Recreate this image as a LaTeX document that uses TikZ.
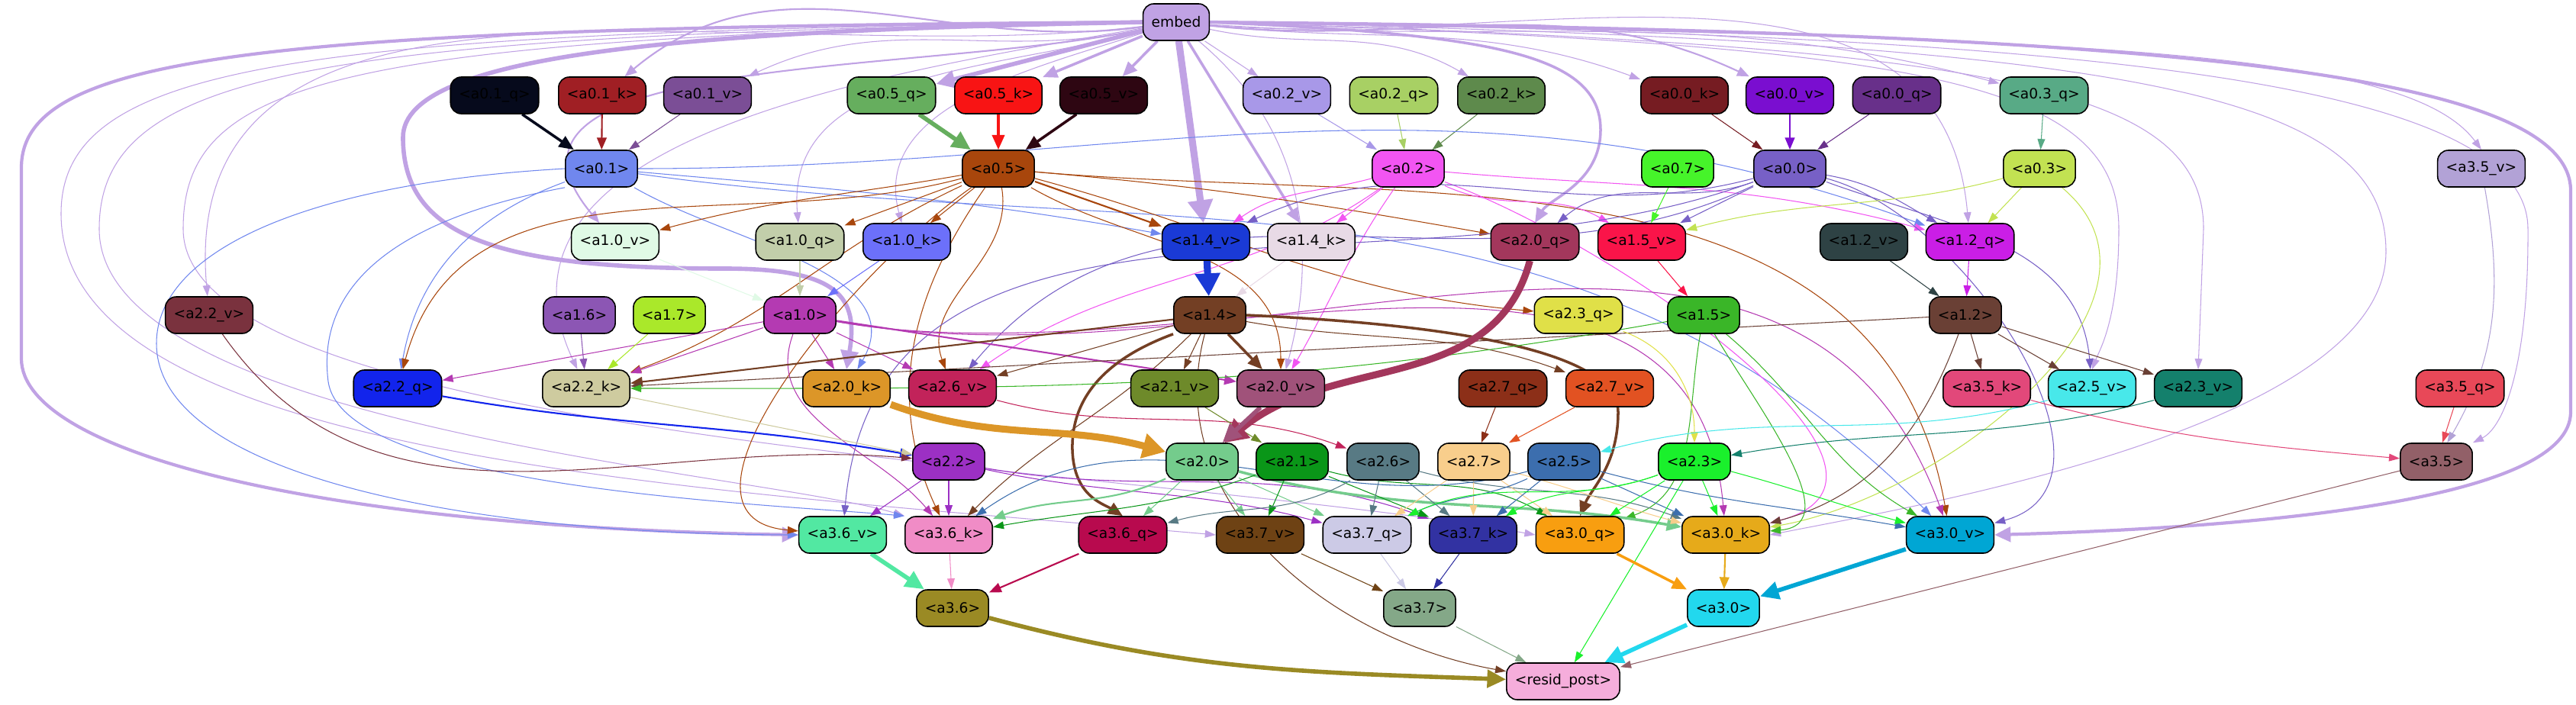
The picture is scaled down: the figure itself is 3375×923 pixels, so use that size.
\documentclass[tikz,border=0pt]{standalone}
\usepackage{fontspec}
\setmainfont{DejaVu Sans}
\usetikzlibrary{arrows.meta}
\pgfdeclarelayer{edges}
\pgfsetlayers{edges,main}
\definecolor{cemb}{HTML}{C0A2E4}
\definecolor{ca01q}{HTML}{060A1C}
\definecolor{ca01k}{HTML}{A01F24}
\definecolor{ca01v}{HTML}{7B4E96}
\definecolor{ca05q}{HTML}{66AE5E}
\definecolor{ca05k}{HTML}{F81414}
\definecolor{ca05v}{HTML}{2E0612}
\definecolor{ca02v}{HTML}{A898E8}
\definecolor{ca02q}{HTML}{A8D064}
\definecolor{ca02k}{HTML}{5E8A4C}
\definecolor{ca00k}{HTML}{761C22}
\definecolor{ca00v}{HTML}{7A0ED0}
\definecolor{ca00q}{HTML}{68308A}
\definecolor{ca03q}{HTML}{58AA86}
\definecolor{ca01}{HTML}{7087EE}
\definecolor{ca05}{HTML}{A8460C}
\definecolor{ca02}{HTML}{F255F2}
\definecolor{ca07}{HTML}{46F42A}
\definecolor{ca00}{HTML}{7760C6}
\definecolor{ca03}{HTML}{C2E252}
\definecolor{ca35v}{HTML}{B2A2D6}
\definecolor{ca10v}{HTML}{E0FAE6}
\definecolor{ca10q}{HTML}{C2CEAA}
\definecolor{ca10k}{HTML}{6C70FA}
\definecolor{ca14v}{HTML}{1A3AD6}
\definecolor{ca14k}{HTML}{E8DAE6}
\definecolor{ca20q}{HTML}{A3375C}
\definecolor{ca15v}{HTML}{FA1449}
\definecolor{ca12v}{HTML}{2E4244}
\definecolor{ca12q}{HTML}{CA1EE6}
\definecolor{ca22v}{HTML}{7A323E}
\definecolor{ca16}{HTML}{8C56B4}
\definecolor{ca17}{HTML}{AAE82A}
\definecolor{ca10}{HTML}{B43AB2}
\definecolor{ca14}{HTML}{733F24}
\definecolor{ca23q}{HTML}{E0E048}
\definecolor{ca15}{HTML}{3AB628}
\definecolor{ca12}{HTML}{6A4035}
\definecolor{ca22q}{HTML}{1224EC}
\definecolor{ca22k}{HTML}{CECB9F}
\definecolor{ca20k}{HTML}{DC9628}
\definecolor{ca26v}{HTML}{C2235A}
\definecolor{ca21v}{HTML}{6E8A2A}
\definecolor{ca20v}{HTML}{A0527A}
\definecolor{ca27q}{HTML}{8C2F18}
\definecolor{ca27v}{HTML}{E25222}
\definecolor{ca35k}{HTML}{E2487A}
\definecolor{ca25v}{HTML}{48E8EA}
\definecolor{ca23v}{HTML}{14806C}
\definecolor{ca35q}{HTML}{E84858}
\definecolor{ca22}{HTML}{9C30C4}
\definecolor{ca20}{HTML}{74CC8C}
\definecolor{ca21}{HTML}{0A9618}
\definecolor{ca26}{HTML}{587A84}
\definecolor{ca27}{HTML}{F8CE8C}
\definecolor{ca25}{HTML}{3C6EAE}
\definecolor{ca23}{HTML}{1AF02C}
\definecolor{ca35}{HTML}{926068}
\definecolor{ca36v}{HTML}{52E8A2}
\definecolor{ca36k}{HTML}{F08CC6}
\definecolor{ca36q}{HTML}{B80A4E}
\definecolor{ca37v}{HTML}{6E4214}
\definecolor{ca37q}{HTML}{CCCAE6}
\definecolor{ca37k}{HTML}{3232A2}
\definecolor{ca30q}{HTML}{F89E10}
\definecolor{ca30k}{HTML}{E6AA1A}
\definecolor{ca30v}{HTML}{00A6D4}
\definecolor{ca36}{HTML}{9A8A24}
\definecolor{ca37}{HTML}{84A888}
\definecolor{ca30}{HTML}{22D8EE}
\definecolor{cresid}{HTML}{F5ADDB}
\begin{document}
\begin{tikzpicture}[x=0.01cm, y=-0.01cm,
    box/.style={draw=black, line width=0.45pt, rounded corners=0.14cm, minimum height=0.48cm, inner xsep=0.11cm, inner ysep=0pt, font=\fontsize{5.3}{6}\selectfont},
    wire/.style={line width=0.3pt, -{Triangle[length=4pt, width=2.8pt]}},
    wirea/.style={line width=0.6pt, -{Triangle[length=4.5pt, width=3.6pt]}},
    wireb/.style={line width=1pt, -{Triangle[length=5.5pt, width=4.6pt]}},
    wirec/.style={line width=1.6pt, -{Triangle[length=7pt, width=6.5pt]}},
    wired/.style={line width=2.6pt, -{Triangle[length=8.5pt, width=9pt]}}]
    \useasboundingbox (0,0) rectangle (3375,923);
    \node[box, fill=cemb] (emb) at (1541,29) {embed};
    \node[box, fill=ca01q] (a01q) at (648,125) {<a0.1\_q>};
    \node[box, fill=ca01k] (a01k) at (789,125) {<a0.1\_k>};
    \node[box, fill=ca01v] (a01v) at (927,125) {<a0.1\_v>};
    \node[box, fill=ca05q] (a05q) at (1168,125) {<a0.5\_q>};
    \node[box, fill=ca05k] (a05k) at (1308,125) {<a0.5\_k>};
    \node[box, fill=ca05v] (a05v) at (1446,125) {<a0.5\_v>};
    \node[box, fill=ca02v] (a02v) at (1686,125) {<a0.2\_v>};
    \node[box, fill=ca02q] (a02q) at (1826,125) {<a0.2\_q>};
    \node[box, fill=ca02k] (a02k) at (1967,125) {<a0.2\_k>};
    \node[box, fill=ca00k] (a00k) at (2207,125) {<a0.0\_k>};
    \node[box, fill=ca00v] (a00v) at (2345,125) {<a0.0\_v>};
    \node[box, fill=ca00q] (a00q) at (2485,125) {<a0.0\_q>};
    \node[box, fill=ca03q] (a03q) at (2678,125) {<a0.3\_q>};
    \node[box, fill=ca01] (a01) at (788,221) {<a0.1>};
    \node[box, fill=ca05] (a05) at (1308,221) {<a0.5>};
    \node[box, fill=ca02] (a02) at (1845,221) {<a0.2>};
    \node[box, fill=ca07] (a07) at (2198,221) {<a0.7>};
    \node[box, fill=ca00] (a00) at (2345,221) {<a0.0>};
    \node[box, fill=ca03] (a03) at (2672,221) {<a0.3>};
    \node[box, fill=ca35v] (a35v) at (3251,221) {<a3.5\_v>};
    \node[box, fill=ca10v] (a10v) at (806,317) {<a1.0\_v>};
    \node[box, fill=ca10q] (a10q) at (1048,317) {<a1.0\_q>};
    \node[box, fill=ca10k] (a10k) at (1188,317) {<a1.0\_k>};
    \node[box, fill=ca14v] (a14v) at (1580,317) {<a1.4\_v>};
    \node[box, fill=ca14k] (a14k) at (1718,317) {<a1.4\_k>};
    \node[box, fill=ca20q] (a20q) at (2011,317) {<a2.0\_q>};
    \node[box, fill=ca15v] (a15v) at (2151,317) {<a1.5\_v>};
    \node[box, fill=ca12v] (a12v) at (2442,317) {<a1.2\_v>};
    \node[box, fill=ca12q] (a12q) at (2581,317) {<a1.2\_q>};
    \node[box, fill=ca22v] (a22v) at (274,413) {<a2.2\_v>};
    \node[box, fill=ca16] (a16) at (759,413) {<a1.6>};
    \node[box, fill=ca17] (a17) at (877,413) {<a1.7>};
    \node[box, fill=ca10] (a10) at (1048,413) {<a1.0>};
    \node[box, fill=ca14] (a14) at (1585,413) {<a1.4>};
    \node[box, fill=ca23q] (a23q) at (2068,413) {<a2.3\_q>};
    \node[box, fill=ca15] (a15) at (2232,413) {<a1.5>};
    \node[box, fill=ca12] (a12) at (2575,413) {<a1.2>};
    \node[box, fill=ca22q] (a22q) at (521,509) {<a2.2\_q>};
    \node[box, fill=ca22k] (a22k) at (768,509) {<a2.2\_k>};
    \node[box, fill=ca20k] (a20k) at (1109,509) {<a2.0\_k>};
    \node[box, fill=ca26v] (a26v) at (1248,509) {<a2.6\_v>};
    \node[box, fill=ca21v] (a21v) at (1539,509) {<a2.1\_v>};
    \node[box, fill=ca20v] (a20v) at (1678,509) {<a2.0\_v>};
    \node[box, fill=ca27q] (a27q) at (1969,509) {<a2.7\_q>};
    \node[box, fill=ca27v] (a27v) at (2109,509) {<a2.7\_v>};
    \node[box, fill=ca35k] (a35k) at (2603,509) {<a3.5\_k>};
    \node[box, fill=ca25v] (a25v) at (2741,509) {<a2.5\_v>};
    \node[box, fill=ca23v] (a23v) at (2880,509) {<a2.3\_v>};
    \node[box, fill=ca35q] (a35q) at (3223,509) {<a3.5\_q>};
    \node[box, fill=ca22] (a22) at (1243,605) {<a2.2>};
    \node[box, fill=ca20] (a20) at (1575,605) {<a2.0>};
    \node[box, fill=ca21] (a21) at (1693,605) {<a2.1>};
    \node[box, fill=ca26] (a26) at (1812,605) {<a2.6>};
    \node[box, fill=ca27] (a27) at (1931,605) {<a2.7>};
    \node[box, fill=ca25] (a25) at (2049,605) {<a2.5>};
    \node[box, fill=ca23] (a23) at (2220,605) {<a2.3>};
    \node[box, fill=ca35] (a35) at (3192,605) {<a3.5>};
    \node[box, fill=ca36v] (a36v) at (1104,701) {<a3.6\_v>};
    \node[box, fill=ca36k] (a36k) at (1243,701) {<a3.6\_k>};
    \node[box, fill=ca36q] (a36q) at (1471,701) {<a3.6\_q>};
    \node[box, fill=ca37v] (a37v) at (1651,701) {<a3.7\_v>};
    \node[box, fill=ca37q] (a37q) at (1791,701) {<a3.7\_q>};
    \node[box, fill=ca37k] (a37k) at (1930,701) {<a3.7\_k>};
    \node[box, fill=ca30q] (a30q) at (2070,701) {<a3.0\_q>};
    \node[box, fill=ca30k] (a30k) at (2261,701) {<a3.0\_k>};
    \node[box, fill=ca30v] (a30v) at (2555,701) {<a3.0\_v>};
    \node[box, fill=ca36] (a36) at (1248,797) {<a3.6>};
    \node[box, fill=ca37] (a37) at (1860,797) {<a3.7>};
    \node[box, fill=ca30] (a30) at (2258,797) {<a3.0>};
    \node[box, fill=cresid] (resid) at (2048,893) {<resid\_post>};
    \begin{pgfonlayer}{edges}
    \path[cemb] (emb) edge[wirea, out=188, in=40] (a01k) edge[wire, out=192, in=25] (a01v)
        edge[wirec] (a05q) edge[wireb] (a05k) edge[wireb] (a05v) edge[wire] (a02v)
        edge[wire, out=-12, in=150] (a02k) edge[wire, out=-6, in=160] (a00k)
        edge[wirea, out=-6, in=155] (a00v) edge[wire, out=-4, in=165] (a03q)
        edge[wired] (a14v) edge[wireb] (a14k)
        edge[wire, out=195, in=95] (a10q) edge[wire, out=198, in=105] (a10k)
        edge[wirea, out=192, in=130] (a10v) edge[wire, out=-5, in=95] (a12q)
        edge[wire, out=187, in=95] (a22v)
        edge[wire, out=190, in=115] (a22k) edge[wire, out=-40, in=75] (a20v);
    \draw[cemb, wire] (emb.east) .. controls (2700,50) and (3150,60) .. (a35v.north);
    \draw[cemb, wire] (emb.east) .. controls (2700,45) and (3312,100) .. (3312,300) .. controls (3313,480) and (3280,560) .. (a35.north east);
    \draw[cemb, wire] (emb.east) .. controls (2500,60) and (2776,100) .. (2776,300) .. controls (2776,420) and (2750,460) .. (a25v.north);
    \draw[cemb, wire] (emb.east) .. controls (2600,60) and (2887,110) .. (2887,300) -- (a23v.north);
    \draw[cemb, wire] (emb.east) .. controls (2800,55) and (3126,120) .. (3126,330) .. controls (3126,560) and (2500,665) .. (a30k.east);
    \draw[cemb, line width=1.2pt, -{Triangle[length=6pt, width=5.5pt]}] (emb.west) .. controls (350,36) and (28,70) .. (28,220) -- (28,470) .. controls (28,590) and (400,690) .. (a36v.west);
    \draw[cemb, line width=1.2pt, -{Triangle[length=6pt, width=5.5pt]}] (emb.east) .. controls (2800,40) and (3368,90) .. (3368,250) -- (3368,540) .. controls (3368,650) and (3000,690) .. (a30v.east);
    \draw[cemb, wirec] (emb.west) .. controls (900,40) and (528,70) .. (528,180) .. controls (528,310) and (650,352) .. (950,352) .. controls (1100,352) and (1125,390) .. (a20k.north);
    \draw[cemb, wireb] (emb.east) .. controls (1950,45) and (2097,70) .. (2097,170) .. controls (2097,240) and (2030,260) .. (a20q.north);
    \draw[cemb, wire] (emb.west) .. controls (400,42) and (80,80) .. (80,280) .. controls (80,600) and (900,640) .. (a37v.west);
    \draw[cemb, wire] (emb.west) .. controls (420,46) and (130,90) .. (130,300) .. controls (130,560) and (1000,620) .. (a36k.north west);
    \draw[cemb, wire] (emb.west) .. controls (450,50) and (240,100) .. (240,300) .. controls (240,580) and (1500,610) .. (a30q.west);
    \path[ca01q] (a01q) edge[wireb] (a01);
    \path[ca01k] (a01k) edge[wirea] (a01);
    \path[ca01v] (a01v) edge[wire] (a01);
    \path[ca05q] (a05q) edge[wirec] (a05);
    \path[ca05k] (a05k) edge[wireb] (a05);
    \path[ca05v] (a05v) edge[wireb] (a05);
    \path[ca02v] (a02v) edge[wire] (a02);
    \path[ca02q] (a02q) edge[wire] (a02);
    \path[ca02k] (a02k) edge[wire] (a02);
    \path[ca00k] (a00k) edge[wire] (a00);
    \path[ca00v] (a00v) edge[wirea] (a00);
    \path[ca00q] (a00q) edge[wire] (a00);
    \path[ca03q] (a03q) edge[wire] (a03);
    \path[ca35v] (a35v) edge[wire, out=-80, in=60] (a35);
    \path[ca01] (a01) edge[wire, out=-5, in=170] (a14v) edge[wire, out=0, in=160] (a12q)
        edge[wire, out=-30, in=60] (a20k) edge[wire, out=200, in=80] (a22q)
        edge[wire, out=-8, in=135] (a30v);
    \draw[ca01, wire] (a01.west) .. controls (400,240) and (205,330) .. (205,450) .. controls (205,620) and (600,700) .. (a36v.west);
    \draw[ca01, wire] (a01.south west) .. controls (450,300) and (420,420) .. (430,500) .. controls (450,640) and (1000,660) .. (a36k.north west);
    \path[ca05] (a05) edge[wire, out=190, in=15] (a10v) edge[wire] (a10q) edge[wire] (a10k)
        edge[wirea] (a14v) edge[wire, out=-5, in=170] (a20q) edge[wire, out=-15, in=175] (a23q)
        edge[wire, out=195, in=75] (a22q) edge[wire, out=205, in=20] (a22k)
        edge[wire, out=-80, in=110] (a26v) edge[wire, out=-30, in=90] (a20v)
        edge[wire, out=215, in=175] (a36v) edge[wire, out=235, in=115] (a36k)
        edge[wire, out=-5, in=100] (a30v);
    \path[ca02] (a02) edge[wire] (a14k) edge[wire, out=195, in=35] (a14v)
        edge[wire, out=-25, in=150] (a15v) edge[wire, out=-5, in=165] (a12q)
        edge[wire, out=235, in=60] (a20v) edge[wire, out=215, in=35] (a26v)
        edge[wire, out=-20, in=15] (a30k);
    \path[ca00] (a00) edge[wire, out=195, in=25] (a14v) edge[wire, out=200, in=40] (a20q)
        edge[wire] (a15v) edge[wire, out=-10, in=150] (a12q) edge[wire, out=-20, in=95] (a25v)
        edge[wire, out=-15, in=15] (a30v) edge[wire, out=200, in=85] (a36v)
        edge[wire, out=205, in=50] (a26v);
    \path[ca07] (a07) edge[wire] (a15v);
    \path[ca03] (a03) edge[wire, out=195, in=15] (a15v) edge[wire] (a12q)
        edge[wire, out=-40, in=10] (a30k);
    \path[ca10v] (a10v) edge[wire] (a10);
    \path[ca10q] (a10q) edge[wire] (a10);
    \path[ca10k] (a10k) edge[wire] (a10);
    \path[ca14v] (a14v) edge[wired] (a14);
    \path[ca14k] (a14k) edge[wire] (a14);
    \path[ca12v] (a12v) edge[wire] (a12);
    \path[ca12q] (a12q) edge[wire] (a12);
    \path[ca15v] (a15v) edge[wire] (a15);
    \path[ca10] (a10) edge[wire] (a22q) edge[wire] (a22k) edge[wire] (a20k) edge[wire] (a26v)
        edge[wirea] (a20v) edge[wire, out=-110, in=130] (a36k)
        edge[wire, out=-10, in=95] (a30k) edge[wire, out=-10, in=110] (a30v);
    \path[ca16] (a16) edge[wire] (a22k);
    \path[ca17] (a17) edge[wire] (a22k);
    \path[ca14] (a14) edge[wirea] (a22k) edge[wire] (a26v) edge[wire] (a21v) edge[wireb] (a20v)
        edge[wire, out=-10, in=160] (a27v) edge[wire, out=225, in=45] (a36k)
        edge[wire, out=-105, in=170] (resid);
    \draw[ca14, wireb] (a14.south west) .. controls (1450,470) and (1403,520) .. (1405,590) .. controls (1407,650) and (1445,660) .. (a36q.north);
    \draw[ca14, wireb] (a14.east) .. controls (1900,425) and (2120,460) .. (2120,540) .. controls (2120,610) and (2085,640) .. (a30q.north);
    \path[ca12] (a12) edge[wire] (a35k) edge[wire] (a25v) edge[wire] (a23v) edge[wire] (a22k)
        edge[wire, out=-110, in=15] (a30k);
    \path[ca15] (a15) edge[wire, out=190, in=0] (a22k) edge[wire, out=-100, in=20] (a30q)
        edge[wire, out=-60, in=5] (a30k) edge[wire, out=-40, in=150] (a30v);
    \path[ca23q] (a23q) edge[wire, out=-20, in=90] (a23);
    \path[ca23v] (a23v) edge[wire, out=195, in=10] (a23);
    \path[ca25v] (a25v) edge[wire, out=195, in=15] (a25);
    \path[ca27q] (a27q) edge[wire] (a27);
    \path[ca27v] (a27v) edge[wire] (a27);
    \path[ca26v] (a26v) edge[wire, out=-15, in=160] (a26);
    \path[ca21v] (a21v) edge[wire] (a21);
    \path[ca20k] (a20k) edge[wired, out=-20, in=165] (a20);
    \path[ca20q] (a20q) edge[wired, out=-105, in=40] (a20);
    \path[ca20v] (a20v) edge[wirec] (a20);
    \path[ca22q] (a22q) edge[wirea, out=-10, in=170] (a22);
    \path[ca22k] (a22k) edge[wire] (a22);
    \path[ca22v] (a22v) edge[wire, out=-55, in=175] (a22);
    \path[ca35k] (a35k) edge[wire, out=-15, in=175] (a35);
    \path[ca35q] (a35q) edge[wire] (a35);
    \path[ca22] (a22) edge[wire] (a36v) edge[wire] (a36k) edge[wire, out=-12, in=165] (a37q)
        edge[wire, out=-10, in=160] (a37k);
    \path[ca20] (a20) edge[wirea, out=205, in=20] (a36k) edge[wire] (a36q) edge[wire] (a37v)
        edge[wire] (a37q) edge[wireb, out=-15, in=170] (a30k);
    \path[ca21] (a21) edge[wire, out=200, in=10] (a36k) edge[wire] (a37v) edge[wire] (a37k)
        edge[wire, out=-15, in=150] (a30q);
    \path[ca26] (a26) edge[wire, out=210, in=15] (a36q) edge[wire] (a37q) edge[wire] (a37k)
        edge[wire, out=-15, in=160] (a30k);
    \path[ca27] (a27) edge[wire] (a37q) edge[wire] (a37k) edge[wire] (a30q)
        edge[wire, out=-15, in=165] (a30k);
    \path[ca25] (a25) edge[wire, out=205, in=25] (a37q) edge[wire] (a37k) edge[wire] (a30k)
        edge[wire, out=-15, in=170] (a30v) edge[wire, out=195, in=35] (a36k);
    \path[ca23] (a23) edge[wire, out=200, in=25] (a37q) edge[wire, out=200, in=30] (a37k)
        edge[wire] (a30q) edge[wire] (a30k) edge[wire, out=-15, in=165] (a30v) edge[wire] (resid);
    \path[ca36v] (a36v) edge[wirec] (a36);
    \path[ca36k] (a36k) edge[wire] (a36);
    \path[ca36q] (a36q) edge[wirea] (a36);
    \path[ca37v] (a37v) edge[wire] (a37);
    \path[ca37q] (a37q) edge[wire] (a37);
    \path[ca37k] (a37k) edge[wire] (a37);
    \path[ca30q] (a30q) edge[wireb] (a30);
    \path[ca30k] (a30k) edge[wirea] (a30);
    \path[ca30v] (a30v) edge[wirec] (a30);
    \path[ca36] (a36) edge[wirec, out=-15, in=178] (resid);
    \path[ca37] (a37) edge[wire] (resid);
    \path[ca30] (a30) edge[wirec] (resid);
    \path[ca35] (a35) edge[wire] (resid);
    \end{pgfonlayer}
\end{tikzpicture}
\end{document}
